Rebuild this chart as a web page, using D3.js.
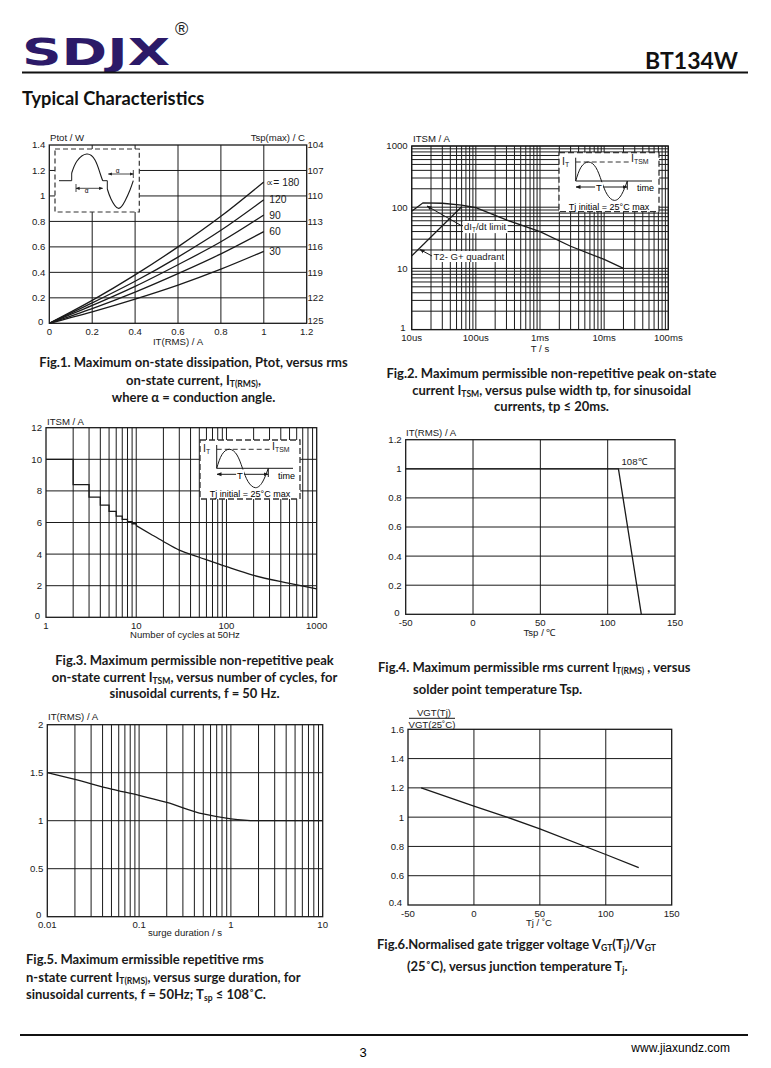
<!DOCTYPE html>
<html><head><meta charset="utf-8">
<script src="https://cdn.jsdelivr.net/npm/d3@7"></script>
<style>body{margin:0;background:#fff}svg{display:block}</style>
</head><body>
<script>
// ---------------- DATA ----------------
// Fig.1
const fig1I = [0, 0.2, 0.4, 0.6, 0.8, 1.0];
const fig1Alpha = ["∝= 180", "120", "90", "60", "30"];
const fig1P180 = [0, 0.18, 0.38, 0.60, 0.84, 1.11];
const fig1P120 = [0, 0.16, 0.33, 0.52, 0.73, 0.97];
const fig1P90  = [0, 0.14, 0.29, 0.46, 0.64, 0.85];
const fig1P60  = [0, 0.115, 0.245, 0.39, 0.545, 0.72];
const fig1P30  = [0, 0.09, 0.19, 0.30, 0.425, 0.565];
const fig1XTicks = [0, 0.2, 0.4, 0.6, 0.8, 1, 1.2];
const fig1YTicks = [0, 0.2, 0.4, 0.6, 0.8, 1, 1.2, 1.4];
const fig1TspTicks = [104, 107, 110, 113, 116, 119, 122, 125];
// Fig.2
const fig2T = [1e-5, 1.5e-5, 3e-5, 6e-5, 1e-4, 3e-4, 1e-3, 3e-3, 1e-2, 2e-2];
const fig2I = [86, 118, 116, 108, 98, 62, 40, 23, 14, 10];
const fig2QuadT = [1e-5, 6e-5];
const fig2QuadI = [16, 102];
const fig2XTicks = [1e-5, 1e-4, 1e-3, 1e-2, 1e-1];
const fig2XLabels = ["10us", "100us", "1ms", "10ms", "100ms"];
const fig2YTicks = [1, 10, 100, 1000];
// Fig.3
const fig3StepN = [1, 2, 3, 4, 5, 6, 7, 8, 9, 10];
const fig3StepI = [10, 8.4, 7.6, 7.1, 6.7, 6.4, 6.2, 6.05, 5.92, 5.8];
const fig3N = [10, 15, 20, 30, 50, 100, 200, 500, 1000];
const fig3I = [5.8, 5.21, 4.8, 4.25, 3.8, 3.2, 2.65, 2.15, 1.8];
const fig3XTicks = [1, 10, 100, 1000];
const fig3YTicks = [0, 2, 4, 6, 8, 10, 12];
// Fig.4
const fig4T = [-50, 108, 125];
const fig4I = [1, 1, 0];
const fig4XTicks = [-50, 0, 50, 100, 150];
const fig4YTicks = [0, 0.2, 0.4, 0.6, 0.8, 1, 1.2];
// Fig.5
const fig5T = [0.01, 0.02, 0.05, 0.1, 0.2, 0.5, 1, 2, 10];
const fig5I = [1.5, 1.43, 1.33, 1.265, 1.19, 1.07, 1.02, 1.0, 1.0];
const fig5XTicks = [0.01, 0.1, 1, 10];
const fig5YTicks = [0, 0.5, 1, 1.5, 2];
// Fig.6
const fig6T = [-40, 0, 25, 50, 100, 125];
const fig6V = [1.2, 1.075, 1.0, 0.92, 0.745, 0.655];
const fig6XTicks = [-50, 0, 50, 100, 150];
const fig6YTicks = [0.4, 0.6, 0.8, 1, 1.2, 1.4, 1.6];

// ---------------- DRAWING ----------------
const AX = "'Liberation Sans', Arial, sans-serif";
const CAP = "Lato, 'Open Sans', sans-serif";
const FS = 9.6;
const INK = "#1a1a1a";
const svg = d3.select("body").append("svg").attr("width", 771).attr("height", 1068).style("background", "#fff");
const defs = svg.append("defs");
defs.append("marker").attr("id", "arr").attr("viewBox", "0 0 10 10").attr("refX", 9).attr("refY", 5)
  .attr("markerWidth", 5).attr("markerHeight", 5).attr("orient", "auto-start-reverse")
  .append("path").attr("d", "M0,1 L10,5 L0,9 z").attr("fill", INK);

function rich(g, x, y, parts, o = {}) {
  const size = o.size || FS;
  const t = g.append("text").attr("x", x).attr("y", y)
    .attr("font-family", o.family || AX).attr("font-size", size)
    .attr("font-weight", o.weight || "normal").attr("text-anchor", o.anchor || "start").attr("fill", o.fill || INK);
  let shifted = 0;
  parts.forEach(p => {
    if (typeof p === "string") { t.append("tspan").attr("dy", -shifted).text(p); shifted = 0; }
    else {
      const d = p.sub !== undefined ? size * 0.22 : -size * 0.38;
      t.append("tspan").attr("dy", d - shifted).attr("font-size", size * 0.66).text(p.sub !== undefined ? p.sub : p.sup);
      shifted = d;
    }
  });
  return t;
}
function bgBox(g, t, pad = 1) {
  const b = t.node().getBBox();
  g.insert("rect", () => t.node()).attr("x", b.x - pad).attr("y", b.y).attr("width", b.width + 2 * pad).attr("height", b.height).attr("fill", "#fff");
}
function label(g, x, y, s, anchor = "start", size = FS) {
  return g.append("text").attr("x", x).attr("y", y).attr("text-anchor", anchor)
    .attr("font-family", AX).attr("font-size", size).attr("fill", INK).text(s);
}

function panel(cfg) {
  const g = svg.append("g");
  const [xa, xb] = cfg.x.range();
  const [ya, yb] = cfg.y.range();
  g.selectAll(null).data(cfg.vgrid).join("line")
    .attr("x1", d => cfg.x(d)).attr("x2", d => cfg.x(d)).attr("y1", ya).attr("y2", yb)
    .attr("stroke", INK).attr("stroke-width", 1);
  g.selectAll(null).data(cfg.hgrid).join("line")
    .attr("y1", d => cfg.y(d)).attr("y2", d => cfg.y(d)).attr("x1", xa).attr("x2", xb)
    .attr("stroke", INK).attr("stroke-width", 1);
  g.append("rect").attr("x", xa).attr("y", yb).attr("width", xb - xa).attr("height", ya - yb)
    .attr("fill", "none").attr("stroke", INK).attr("stroke-width", 1.3);
  g.selectAll(null).data(cfg.yTicks).join("text")
    .attr("x", (d, i) => xa - 4 - (i === 0 ? 2 : 0)).attr("y", (d, i) => cfg.y(d) + 3.4 - (i === 0 ? 2 : 0)).attr("text-anchor", "end")
    .attr("font-family", AX).attr("font-size", FS).attr("fill", INK)
    .text((d, i) => cfg.yLabels ? cfg.yLabels[i] : d);
  g.selectAll(null).data(cfg.xTicks).join("text")
    .attr("x", d => cfg.x(d)).attr("y", ya + 11.5).attr("text-anchor", "middle")
    .attr("font-family", AX).attr("font-size", FS).attr("fill", INK)
    .text((d, i) => cfg.xLabels ? cfg.xLabels[i] : d);
  return g;
}
function curve(g, x, y, xs, ys, c = d3.curveMonotoneX) {
  g.append("path").datum(xs.map((v, i) => [v, ys[i]]))
    .attr("d", d3.line().x(d => x(d[0])).y(d => y(d[1])).curve(c))
    .attr("fill", "none").attr("stroke", INK).attr("stroke-width", 1.3);
}
function sineInset(x0, y0) {
  const b = svg.append("g").attr("transform", `translate(${x0},${y0})`);
  b.append("rect").attr("width", 100).attr("height", 59).attr("fill", "#fff")
    .attr("stroke", "#333").attr("stroke-width", 1.3).attr("stroke-dasharray", "6,3");
  b.append("line").attr("x1", 16.7).attr("x2", 16.7).attr("y1", 5).attr("y2", 28.3).attr("stroke", INK);
  b.append("line").attr("x1", 16.7).attr("x2", 93).attr("y1", 28.3).attr("y2", 28.3).attr("stroke", INK);
  b.append("line").attr("x1", 16.7).attr("x2", 72).attr("y1", 9.3).attr("y2", 9.3).attr("stroke", "#333").attr("stroke-dasharray", "5,3");
  const pts = [[16.7, 28.3], [22, 14.5], [29.6, 9.3], [37, 15], [42.5, 28.3], [48, 41.5], [55.4, 47.7], [62.5, 42], [68.3, 28.3]];
  b.append("path").attr("d", d3.line().curve(d3.curveNatural)(pts)).attr("fill", "none").attr("stroke", INK).attr("stroke-width", 1);
  b.append("line").attr("x1", 17).attr("x2", 68).attr("y1", 34.3).attr("y2", 34.3).attr("stroke", INK)
    .attr("marker-start", "url(#arr)").attr("marker-end", "url(#arr)");
  b.append("line").attr("x1", 68.3).attr("x2", 68.3).attr("y1", 28.3).attr("y2", 37).attr("stroke", INK);
  const tT = b.append("text").attr("x", 40).attr("y", 38.5).attr("text-anchor", "middle").attr("font-family", AX).attr("font-size", 9.5).text("T");
  bgBox(b, tT, 1);
  rich(b, 3, 12, ["I", { sub: "T" }], { size: 10.5 });
  rich(b, 72, 9.5, ["I", { sub: "TSM" }], { size: 10.5 });
  const tm = b.append("text").attr("x", 78).attr("y", 38.5).attr("font-family", AX).attr("font-size", 9).text("time");
  bgBox(b, tm, 0.5);
  b.append("text").attr("x", 50).attr("y", 57).attr("text-anchor", "middle").attr("font-family", AX).attr("font-size", 9).text("Tj initial = 25°C max");
}

// ---- Header ----
svg.append("text").attr("x", 22).attr("y", 65).attr("font-family", "'DejaVu Sans', sans-serif").attr("font-weight", "bold")
  .attr("font-size", 37).attr("fill", "#2c1a68").attr("textLength", 148).attr("lengthAdjust", "spacingAndGlyphs").text("SDJX");
svg.append("text").attr("x", 175).attr("y", 35).attr("font-family", AX).attr("font-size", 18).attr("fill", "#222").text("®");
svg.append("text").attr("x", 738).attr("y", 69).attr("text-anchor", "end").attr("font-family", CAP).attr("font-weight", "bold")
  .attr("font-size", 23).attr("fill", "#111").text("BT134W");
svg.append("line").attr("x1", 22).attr("x2", 748).attr("y1", 72.5).attr("y2", 72.5).attr("stroke", "#111").attr("stroke-width", 2);
svg.append("text").attr("x", 22).attr("y", 105).attr("font-family", CAP).attr("font-weight", "bold")
  .attr("font-size", 18.3).attr("fill", "#111").text("Typical Characteristics");

// ---- Fig.1 ----
{
  const x = d3.scaleLinear([0, 1.2], [49.3, 306.7]);
  const y = d3.scaleLinear([0, 1.4], [323.3, 145]);
  const yr = d3.scaleLinear([125, 104], [323.3, 145]);
  const g = panel({ x, y, vgrid: [0.2, 0.4, 0.6, 0.8, 1.0], hgrid: [0.2, 0.4, 0.6, 0.8, 1.0, 1.2], xTicks: fig1XTicks, yTicks: fig1YTicks });
  g.selectAll(null).data(fig1TspTicks).join("text").attr("x", 307.5).attr("y", d => yr(d) + 3.4 - (d === 125 ? 2.5 : 0))
    .attr("font-family", AX).attr("font-size", FS).attr("fill", INK).text(d => d);
  label(g, 50, 140.5, "Ptot / W");
  label(g, 305, 140.5, "Tsp(max) / C", "end");
  label(g, 178, 344.5, "IT(RMS) / A", "middle");
  const series = [fig1P180, fig1P120, fig1P90, fig1P60, fig1P30];
  series.forEach((s, i) => {
    curve(g, x, y, fig1I, s);
    label(g, x(1.0) + (i === 0 ? 2.5 : 5.5), y(s[s.length - 1]) + 3.6, fig1Alpha[i], "start", 10.3);
  });
  // inset
  const b = g.append("g").attr("transform", "translate(55,149)");
  b.append("rect").attr("width", 84.3).attr("height", 63).attr("fill", "#fff").attr("stroke", "#333")
    .attr("stroke-width", 1.2).attr("stroke-dasharray", "5,3");
  const pos = [[16.7, 24], [22, 12], [31.7, 5], [40, 11], [45, 24], [47.7, 31.7]];
  const neg = [[52.3, 40], [56, 50], [63.3, 59.3], [70, 52], [75, 41], [78.3, 31.7]];
  b.append("path").attr("d", "M4,31.7H16.7V24").attr("fill", "none").attr("stroke", INK);
  b.append("path").attr("d", d3.line().curve(d3.curveNatural)(pos)).attr("fill", "none").attr("stroke", INK).attr("stroke-width", 1.1);
  b.append("path").attr("d", "M47.7,31.7H52.3V40").attr("fill", "none").attr("stroke", INK);
  b.append("path").attr("d", d3.line().curve(d3.curveNatural)(neg)).attr("fill", "none").attr("stroke", INK).attr("stroke-width", 1.1);
  b.append("line").attr("x1", 21).attr("x2", 47.7).attr("y1", 39.3).attr("y2", 39.3).attr("stroke", INK).attr("stroke-width", 0.8)
    .attr("marker-start", "url(#arr)").attr("marker-end", "url(#arr)");
  b.append("line").attr("x1", 21).attr("x2", 21).attr("y1", 35).attr("y2", 43).attr("stroke", INK).attr("stroke-width", 0.8);
  b.append("text").attr("x", 31.7).attr("y", 44).attr("text-anchor", "middle").attr("font-family", AX).attr("font-size", 6.5).text("α");
  b.append("line").attr("x1", 53.3).attr("x2", 78.3).attr("y1", 25).attr("y2", 25).attr("stroke", INK).attr("stroke-width", 0.8)
    .attr("marker-start", "url(#arr)").attr("marker-end", "url(#arr)");
  b.append("line").attr("x1", 78.3).attr("x2", 78.3).attr("y1", 21).attr("y2", 29).attr("stroke", INK).attr("stroke-width", 0.8);
  b.append("text").attr("x", 62.7).attr("y", 24).attr("text-anchor", "middle").attr("font-family", AX).attr("font-size", 6.5).text("α");
}

// ---- Fig.2 ----
{
  const x = d3.scaleLog([1e-5, 1e-1], [411.7, 668.3]);
  const y = d3.scaleLog([1, 1000], [329.6, 146]);
  const g = panel({ x, y, vgrid: x.ticks(), hgrid: y.ticks(), xTicks: fig2XTicks, xLabels: fig2XLabels, yTicks: fig2YTicks });
  label(g, 413, 142, "ITSM / A");
  label(g, 540, 352, "T / s", "middle");
  curve(g, x, y, fig2T, fig2I, d3.curveLinear);
  curve(g, x, y, fig2QuadT, fig2QuadI, d3.curveLinear);
  const t1 = rich(g, 464, 230, ["dI", { sub: "T" }, "/dt limit"], { size: FS });
  bgBox(g, t1, 1);
  const t2 = rich(g, 433.5, 260, ["T2- G+ quadrant"], { size: FS });
  bgBox(g, t2, 1);
  g.append("line").attr("x1", 462).attr("y1", 226).attr("x2", 427).attr("y2", 206).attr("stroke", INK).attr("marker-end", "url(#arr)");
  g.append("line").attr("x1", 432).attr("y1", 256).attr("x2", 420).attr("y2", 249.5).attr("stroke", INK).attr("marker-end", "url(#arr)");
  sineInset(559, 152.7);
}

// ---- Fig.3 ----
{
  const x = d3.scaleLog([1, 1000], [46, 316.7]);
  const y = d3.scaleLinear([0, 12], [617.3, 427.7]);
  const g = panel({ x, y, vgrid: x.ticks().filter(d => d > 1 && d < 1000), hgrid: [2, 4, 6, 8, 10], xTicks: fig3XTicks, yTicks: fig3YTicks });
  label(g, 47, 425, "ITSM / A");
  label(g, 185, 638, "Number of cycles at 50Hz", "middle");
  curve(g, x, y, fig3StepN, fig3StepI, d3.curveStepAfter);
  curve(g, x, y, fig3N, fig3I);
  sineInset(200, 440);
}

// ---- Fig.4 ----
{
  const x = d3.scaleLinear([-50, 150], [405.7, 675]);
  const y = d3.scaleLinear([0, 1.2], [614.3, 439.7]);
  const g = panel({ x, y, vgrid: [0, 50, 100], hgrid: [0.2, 0.4, 0.6, 0.8, 1.0], xTicks: fig4XTicks, yTicks: fig4YTicks });
  label(g, 406, 435.5, "IT(RMS) / A");
  label(g, 540, 636, "Tsp / ℃", "middle");
  curve(g, x, y, fig4T, fig4I, d3.curveLinear);
  label(g, 621.5, 464.5, "108℃");
}

// ---- Fig.5 ----
{
  const x = d3.scaleLog([0.01, 10], [47.3, 322.7]);
  const y = d3.scaleLinear([0, 2], [916.7, 724.7]);
  const g = panel({ x, y, vgrid: x.ticks().filter(d => d > 0.01 && d < 10), hgrid: [0.5, 1, 1.5], xTicks: fig5XTicks, yTicks: fig5YTicks });
  label(g, 48, 720, "IT(RMS) / A");
  label(g, 185, 935.5, "surge duration / s", "middle");
  curve(g, x, y, fig5T, fig5I);
}

// ---- Fig.6 ----
{
  const x = d3.scaleLinear([-50, 150], [408, 671.7]);
  const y = d3.scaleLinear([0.4, 1.6], [905, 729.3]);
  const g = panel({ x, y, vgrid: [0, 50, 100], hgrid: [0.6, 0.8, 1.0, 1.2, 1.4], xTicks: fig6XTicks, yTicks: fig6YTicks });
  label(g, 434, 715.5, "VGT(Tj)", "middle");
  g.append("line").attr("x1", 409).attr("x2", 455).attr("y1", 718.3).attr("y2", 718.3).attr("stroke", INK);
  label(g, 408.5, 727.5, "VGT(25˚C)");
  label(g, 539, 925.5, "Tj / ˚C", "middle");
  curve(g, x, y, fig6T, fig6V, d3.curveLinear);
}

// ---- Captions ----
const CS = 13;
const co = (a) => ({ size: CS, family: CAP, weight: "bold", anchor: a });
rich(svg, 193.5, 366.5, ["Fig.1. Maximum on-state dissipation, Ptot, versus rms"], co("middle"));
rich(svg, 193.5, 384.5, ["on-state current, I", { sub: "T(RMS)" }, ","], co("middle"));
rich(svg, 193.5, 401.5, ["where α = conduction angle."], co("middle"));
rich(svg, 551.5, 377.5, ["Fig.2. Maximum permissible non-repetitive peak on-state"], co("middle"));
rich(svg, 551.5, 394.5, ["current I", { sub: "TSM" }, ", versus pulse width tp, for sinusoidal"], co("middle"));
rich(svg, 551.5, 410.5, ["currents, tp ≤ 20ms."], co("middle"));
rich(svg, 194.5, 664.5, ["Fig.3. Maximum permissible non-repetitive peak"], co("middle"));
rich(svg, 194.5, 681.5, ["on-state current I", { sub: "TSM" }, ", versus number of cycles, for"], co("middle"));
rich(svg, 194.5, 697.5, ["sinusoidal currents, f = 50 Hz."], co("middle"));
rich(svg, 378, 671.5, ["Fig.4. Maximum permissible rms current I", { sub: "T(RMS)" }, " , versus"], co("start"));
rich(svg, 413, 693.5, ["solder point temperature Tsp."], co("start"));
rich(svg, 26, 963.5, ["Fig.5. Maximum ermissible repetitive rms"], co("start"));
rich(svg, 26, 981.5, ["n-state current I", { sub: "T(RMS)" }, ", versus surge duration, for"], co("start"));
rich(svg, 26, 998.5, ["sinusoidal currents, f = 50Hz; T", { sub: "sp" }, " ≤ 108˚C."], co("start"));
rich(svg, 377, 948.5, ["Fig.6.Normalised gate trigger voltage V", { sub: "GT" }, "(T", { sub: "j" }, ")/V", { sub: "GT" }], co("start"));
rich(svg, 407, 970.5, ["(25˚C), versus junction temperature T", { sub: "j" }, "."], co("start"));

// ---- Footer ----
svg.append("line").attr("x1", 20).attr("x2", 748).attr("y1", 1035).attr("y2", 1035).attr("stroke", "#111").attr("stroke-width", 2);
svg.append("text").attr("x", 363).attr("y", 1057).attr("text-anchor", "middle").attr("font-family", AX).attr("font-size", 13).text("3");
svg.append("text").attr("x", 730).attr("y", 1052).attr("text-anchor", "end").attr("font-family", AX).attr("font-size", 12).text("www.jiaxundz.com");
</script>
</body></html>
